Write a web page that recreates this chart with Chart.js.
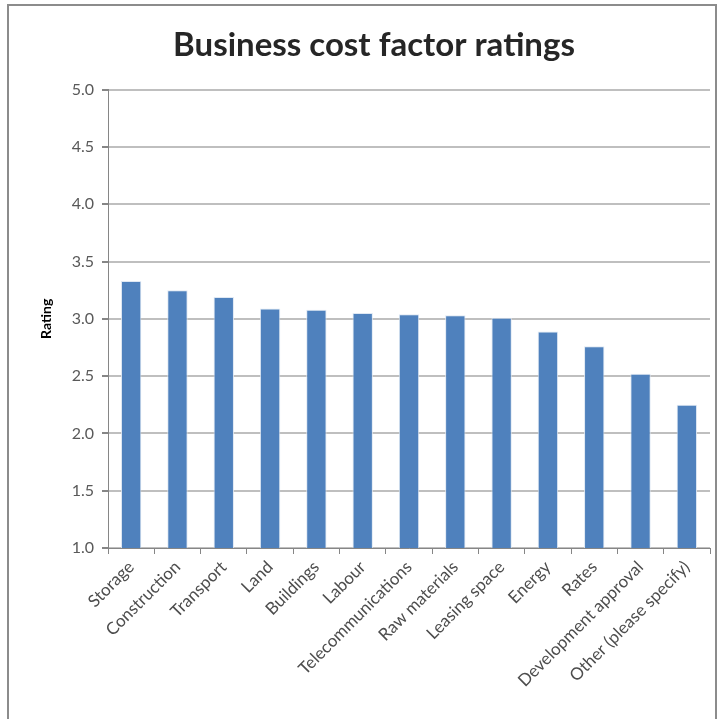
<!DOCTYPE html>
<html>
<head>
<meta charset="utf-8">
<script src="https://cdn.jsdelivr.net/npm/chart.js@4"></script>
<style>
    html, body { margin: 0; padding: 0; background: #fff; overflow: hidden; }
    #wrap { position: absolute; left: 0; top: 0; width: 721px; height: 719px; }
    #frame { position: absolute; left: 7px; top: 4px; width: 710px; height: 730px; border: 2px solid #8c8c8c; box-sizing: border-box; }
</style>
</head>
<body>
<div id="wrap">
    <div id="frame"></div>
    <canvas id="barChart" width="721" height="719"></canvas>
</div>
<script>
var barcolor = "rgb(79, 129, 189)";
var gridcolor = "#bfbfbf";
var axiscolor = "#868686";
var textcolor = "#595959";

var factors = ["Storage", "Construction", "Transport", "Land", "Buildings", "Labour",
    "Telecommunications", "Raw materials", "Leasing space", "Energy", "Rates",
    "Development approval", "Other (please specify)"];
var ratings = [3.33, 3.25, 3.19, 3.09, 3.08, 3.05, 3.04, 3.03, 3.01, 2.89, 2.76, 2.52, 2.25];
var ratingTicks = [1.0, 1.5, 2.0, 2.5, 3.0, 3.5, 4.0, 4.5, 5.0];

Chart.defaults.font.family = "Lato, 'Open Sans', sans-serif";

const barChart = document.getElementById('barChart');
var myBarChart = new Chart(barChart, loadBarChart());

//////////////////////////
// barchart
//////////////////////////
function loadBarChart() {
    const data = {
        labels: factors,
        datasets: [{
            label: 'Rating',
            data: ratings,
            backgroundColor: barcolor,
            borderColor: 'rgba(220, 230, 242, 0.9)',
            borderWidth: 1,
            barPercentage: 0.44,
            categoryPercentage: 1.0
        }]
    };
    const config = {
        type: 'bar',
        data: data,
        options: {
            responsive: false,
            animation: false,
            layout: {
                padding: { left: 38, right: 11, top: 0, bottom: 0 }
            },
            plugins: {
                legend: { display: false },
                tooltip: { enabled: false },
                title: {
                    display: true,
                    text: 'Business cost factor ratings',
                    color: '#262626',
                    font: { size: 33, weight: 'bold' },
                    padding: { top: 26, bottom: 24 }
                }
            },
            scales: {
                x: {
                    grid: {
                        display: true,
                        offset: true,
                        drawOnChartArea: false,
                        drawTicks: true,
                        tickLength: 6,
                        color: axiscolor
                    },
                    border: { display: true, color: axiscolor, width: 1 },
                    ticks: {
                        color: '#4d4d4d',
                        font: { size: 17 },
                        minRotation: 45,
                        maxRotation: 45,
                        autoSkip: false,
                        padding: 3
                    },
                    afterFit: function (scale) {
                        scale.height = 171;
                    }
                },
                y: {
                    min: 1,
                    max: 5,
                    afterBuildTicks: function (scale) {
                        scale.ticks = ratingTicks.map(function (v) { return { value: v }; });
                    },
                    grid: {
                        color: gridcolor,
                        lineWidth: 2,
                        drawTicks: true,
                        tickLength: 6,
                        tickColor: axiscolor
                    },
                    border: { display: true, color: axiscolor, width: 1 },
                    title: {
                        display: true,
                        text: 'Rating',
                        color: '#000',
                        font: { size: 14, weight: 'bold' },
                        padding: { top: 0, bottom: 12 }
                    },
                    ticks: {
                        color: textcolor,
                        font: { size: 16 },
                        padding: 8,
                        callback: function (value) {
                            return value.toFixed(1);
                        }
                    },
                    afterFit: function (scale) {
                        scale.width = 70;
                    }
                }
            }
        }
    };
    return config;
}
</script>
</body>
</html>
